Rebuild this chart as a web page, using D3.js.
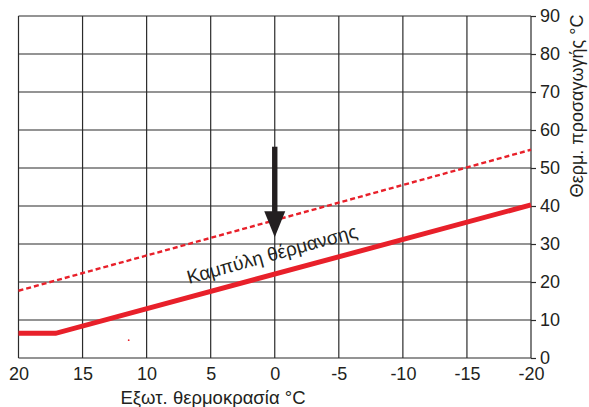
<!DOCTYPE html>
<html>
<head>
<meta charset="utf-8">
<style>
  body { margin: 0; background: #fff; }
  text { font-family: "Liberation Sans", Arial, sans-serif; fill: #231f20; }
</style>
</head>
<body>
<script src="https://cdn.jsdelivr.net/npm/d3@7"></script>
<script>
// outside temperature ticks (x, reversed) and flow temperature ticks (y)
var xTicks = [20, 15, 10, 5, 0, -5, -10, -15, -20];
var yTicks = [0, 10, 20, 30, 40, 50, 60, 70, 80, 90];

// heating curve (solid) and shifted curve (dashed)
var curveTemp = [20, 17.1, -20];
var curveFlow = [6.5, 6.5, 40.3];
var shiftTemp = [20, -20];
var shiftFlow = [17.7, 54.8];

// arrow at 0 °C from / to
var arrowTemp = 0;
var arrowFrom = 55.6;
var arrowTo = 31.8;

// stray red dot in the original
var dotTemp = [11.4];
var dotFlow = [4.7];

var W = 589, H = 407;
var svg = d3.select("body").append("svg")
    .attr("width", W).attr("height", H);

var x = d3.scaleLinear().domain([20, -20]).range([18.5, 531]);
var y = d3.scaleLinear().domain([0, 90]).range([358, 16]);

// grid
svg.append("g").selectAll("line")
    .data(xTicks).enter().append("line")
    .attr("x1", d => x(d)).attr("x2", d => x(d))
    .attr("y1", y(0)).attr("y2", y(90))
    .attr("stroke", "#2b2b2b").attr("stroke-width", 1.2);

svg.append("g").selectAll("line")
    .data(yTicks).enter().append("line")
    .attr("x1", x(20)).attr("x2", x(-20))
    .attr("y1", d => y(d)).attr("y2", d => y(d))
    .attr("stroke", "#2b2b2b").attr("stroke-width", 1.2);

// right axis
var yAxis = d3.axisRight(y).tickValues(yTicks).tickSize(5).tickPadding(4);
var ga = svg.append("g")
    .attr("transform", "translate(" + x(-20) + ",0)")
    .call(yAxis);
ga.select(".domain").remove();
ga.selectAll("line").attr("stroke", "#2b2b2b").attr("stroke-width", 1.2);
ga.selectAll("text")
    .attr("font-size", 18)
    .attr("font-family", "Liberation Sans, Arial, sans-serif")
    .attr("fill", "#231f20");

// bottom tick labels (plain hyphen like the original)
var gx = svg.append("g")
    .attr("transform", "translate(0," + y(0) + ")")
    .call(d3.axisBottom(x).tickValues(xTicks).tickSize(0).tickPadding(9)
        .tickFormat(d => String(d)));
gx.select(".domain").remove();
gx.selectAll("text")
    .attr("font-size", 18)
    .attr("font-family", "Liberation Sans, Arial, sans-serif")
    .attr("fill", "#231f20");

// axis titles
svg.append("text")
    .attr("x", 213).attr("y", 404)
    .attr("text-anchor", "middle")
    .attr("font-size", 18.5)
    .text("Εξωτ. θερμοκρασία °C");

svg.append("text")
    .attr("transform", "translate(583,106) rotate(-90)")
    .attr("text-anchor", "middle")
    .attr("font-size", 18)
    .text("Θερμ. προσαγωγής °C");

var red = "#e8202a";

// dashed curve
var line = d3.line().x(d => x(d[0])).y(d => y(d[1]));
svg.append("path")
    .attr("d", line(d3.zip(shiftTemp, shiftFlow)))
    .attr("fill", "none")
    .attr("stroke", red).attr("stroke-width", 2.4)
    .attr("stroke-dasharray", "5,3");

// solid heating curve
svg.append("path")
    .attr("d", line(d3.zip(curveTemp, curveFlow)))
    .attr("fill", "none")
    .attr("stroke", red).attr("stroke-width", 5)
    .attr("stroke-linejoin", "miter");

svg.selectAll(".dot")
    .data(d3.zip(dotTemp, dotFlow)).enter().append("circle")
    .attr("cx", d => x(d[0])).attr("cy", d => y(d[1]))
    .attr("r", 0.9).attr("fill", red);

// arrow
var ax = x(arrowTemp);
var headTop = y(arrowTo) - 26;
svg.append("rect")
    .attr("x", ax - 2.7).attr("y", y(arrowFrom))
    .attr("width", 5.4).attr("height", headTop - y(arrowFrom) + 1)
    .attr("fill", "#231f20");
svg.append("path")
    .attr("d", "M" + (ax - 10.5) + "," + headTop + "L" + (ax + 10.5) + "," + headTop +
        "L" + ax + "," + y(arrowTo) + "Z")
    .attr("fill", "#231f20");

// curve label
svg.append("text")
    .attr("transform", "translate(189,284) rotate(-15.5)")
    .attr("font-size", 19)
    .text("Καμπύλη θέρμανσης");
</script>
</body>
</html>
